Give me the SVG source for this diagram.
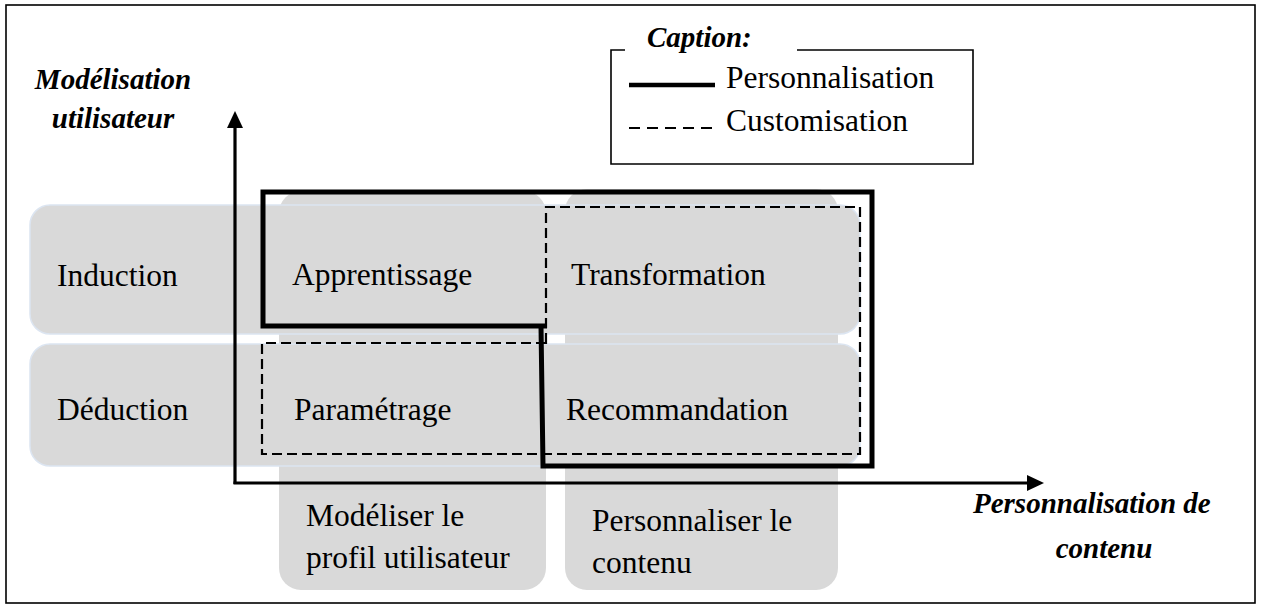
<svg xmlns="http://www.w3.org/2000/svg" width="1263" height="607" viewBox="0 0 1263 607">
  <defs>
    <style>
      .band { fill: #d9d9d9; }
      .row { fill: #d9d9d9; stroke: #dce5f1; stroke-width: 1.5; }
      .txt { font-family: "Liberation Serif", "Times New Roman", serif; font-size: 31.5px; fill: #000; }
      .axis-label { font-family: "Liberation Serif", "Times New Roman", serif; font-size: 29px; font-weight: bold; font-style: italic; fill: #000; }
      .perso { fill: none; stroke: #000; stroke-width: 5; stroke-linejoin: miter; }
      .custo { fill: none; stroke: #000; stroke-width: 2.2; stroke-dasharray: 10 5; }
      .axis { fill: none; stroke: #000; stroke-width: 3.2; }
      .head { fill: #000; }
    </style>
  </defs>

  <!-- page frame -->
  <rect x="6" y="5" width="1249" height="598" fill="#fff" stroke="#000" stroke-width="1.6"/>

  <!-- columns -->
  <g id="col-modeliser">
    <rect class="band" x="279" y="191" width="267" height="399" rx="22" ry="22"/>
    <text class="txt" x="306" y="526">Modéliser le</text>
    <text class="txt" x="306" y="568">profil utilisateur</text>
  </g>
  <g id="col-personnaliser">
    <rect class="band" x="565" y="189" width="273" height="401" rx="22" ry="22"/>
    <text class="txt" x="592" y="531">Personnaliser le</text>
    <text class="txt" x="592" y="573">contenu</text>
  </g>

  <!-- rows -->
  <g id="row-induction">
    <rect class="row" x="30" y="205" width="830" height="129" rx="20" ry="20"/>
    <text class="txt" x="57" y="286">Induction</text>
  </g>
  <g id="row-deduction">
    <rect class="row" x="30" y="344" width="830" height="122" rx="20" ry="20"/>
    <text class="txt" x="57" y="420">Déduction</text>
  </g>

  <!-- cells -->
  <g id="cell-apprentissage">
    <text class="txt" x="292" y="285">Apprentissage</text>
  </g>
  <g id="cell-transformation">
    <text class="txt" x="571" y="285">Transformation</text>
  </g>
  <g id="cell-parametrage">
    <text class="txt" x="294" y="420">Paramétrage</text>
  </g>
  <g id="cell-recommandation">
    <text class="txt" x="566" y="420">Recommandation</text>
  </g>

  <!-- scope outlines -->
  <g id="scopes">
    <path class="custo" d="M546,343 V207 H860 V454 H262 V343 Z"/>
    <path class="perso" d="M547,326 H263 V192 H872 V466 H543 L541,326"/>
  </g>

  <!-- axes -->
  <g id="connectors">
    <path class="axis" d="M235,484 V124"/>
    <polygon class="head" points="235,111 243,128 227,128"/>
    <path class="axis" d="M233.5,483 H1030"/>
    <polygon class="head" points="1044,483 1027,475 1027,491"/>
  </g>

  <!-- axis titles -->
  <g id="label-y">
    <text class="axis-label" x="113" y="89" text-anchor="middle">Modélisation</text>
    <text class="axis-label" x="113" y="128" text-anchor="middle">utilisateur</text>
  </g>
  <g id="label-x">
    <text class="axis-label" x="973" y="513">Personnalisation de</text>
    <text class="axis-label" x="1104" y="558" text-anchor="middle">contenu</text>
  </g>

  <!-- legend -->
  <g id="legend">
    <path d="M625,50 H611 V164 H973 V50 H797" fill="none" stroke="#000" stroke-width="1.6"/>
    <text class="axis-label" x="647" y="47">Caption:</text>
    <line x1="629" y1="85" x2="715" y2="85" stroke="#000" stroke-width="4.5"/>
    <text class="txt" x="726" y="88">Personnalisation</text>
    <line x1="629" y1="128" x2="715" y2="128" stroke="#000" stroke-width="1.8" stroke-dasharray="11 7"/>
    <text class="txt" x="726" y="131">Customisation</text>
  </g>
</svg>
